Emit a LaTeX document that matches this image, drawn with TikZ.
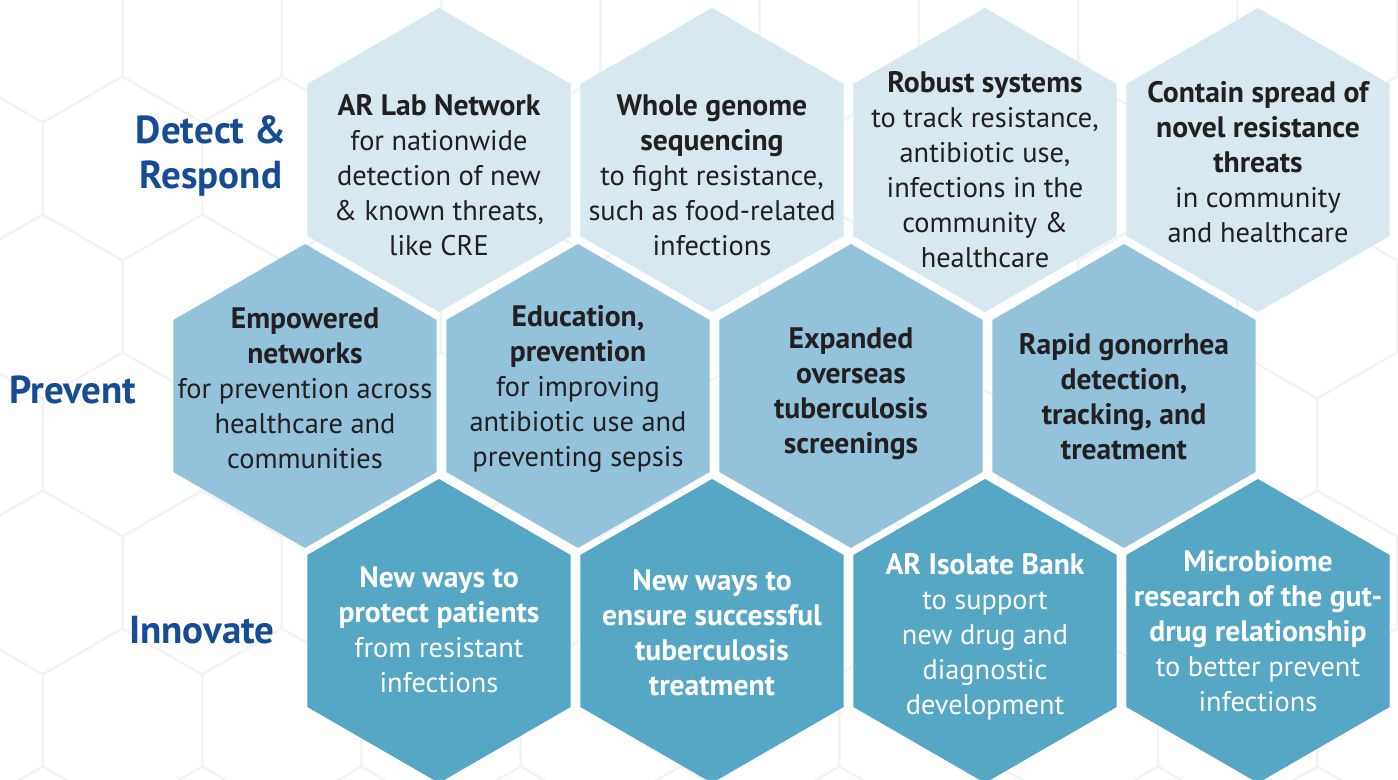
\documentclass[tikz,border=0pt]{standalone}
\usepackage{fontspec}
\setmainfont{PT Sans}
\usetikzlibrary{shapes.geometric}

\definecolor{detectfill}{RGB}{215,232,241}
\definecolor{preventfill}{RGB}{147,195,218}
\definecolor{innovatefill}{RGB}{86,166,198}
\definecolor{rowblue}{RGB}{22,76,148}
\definecolor{celldark}{RGB}{35,31,32}
\definecolor{bggrid}{RGB}{243,243,243}

\newcommand{\cellfont}{\fontsize{14.2}{17.5}\selectfont}
\newcommand{\headfont}{\fontsize{14.8}{17.5}\selectfont\bfseries}
\newcommand{\hd}[1]{{\headfont #1}}
\newcommand{\rowfont}{\fontsize{19.5}{22.5}\selectfont\bfseries}

\begin{document}
\begin{tikzpicture}[x=0.5pt,y=-0.5pt,
  hexcell/.style={regular polygon,regular polygon sides=6,shape border rotate=30,
    minimum size=152pt,inner sep=0pt,draw=none},
  cell/.style={align=center,font=\cellfont,text=celldark,inner sep=0pt},
  rowlabel/.style={align=center,font=\rowfont,text=rowblue,inner sep=0pt},
  bgline/.style={draw=bggrid,line width=1.1pt,line join=round}]

\useasboundingbox[fill=white] (0,0) rectangle (1398,780);

% faint honeycomb behind everything
\begin{scope}
\clip (0,0) rectangle (1398,780);
\foreach \k in {-1,...,5}{
  \foreach \i in {-1,...,9}{
    \pgfmathsetmacro{\gx}{122.5+159.3*\i-79.65*mod(\k+2,2)}
    \pgfmathsetmacro{\gy}{168.5+138*\k}
    \draw[bgline] (\gx,\gy) +(90:92) -- +(150:92) -- +(210:92) -- +(270:92)
      -- +(330:92) -- +(30:92) -- cycle;
  }
}
\end{scope}

% row labels
\node[rowlabel] (detect) at (211,156) {Detect \&\\Respond};
\node[rowlabel] (prevent) at (73,390) {Prevent};
\node[rowlabel] (innovate) at (202,630) {Innovate};

% detect & respond row
\node[hexcell,fill=detectfill] (d1) at (439,160) {};
\node[hexcell,fill=detectfill] (d2) at (712,160) {};
\node[hexcell,fill=detectfill] (d3) at (985,160) {};
\node[hexcell,fill=detectfill] (d4) at (1258,160) {};

\node[cell] (d1text) at (439,175) {\hd{AR Lab Network}\\for nationwide\\detection of new\\\& known threats,\\like CRE};
\node[cell] (d2text) at (712,175) {\hd{Whole genome}\\\hd{sequencing}\\to fight resistance,\\such as food-related\\infections};
\node[cell] (d3text) at (985,170) {\hd{Robust systems}\\to track resistance,\\antibiotic use,\\infections in the\\community \&\\healthcare};
\node[cell] (d4text) at (1258,162) {\hd{Contain spread of}\\\hd{novel resistance}\\\hd{threats}\\in community\\and healthcare};

% prevent row
\node[hexcell,fill=preventfill] (p1) at (305,396) {};
\node[hexcell,fill=preventfill] (p2) at (578,396) {};
\node[hexcell,fill=preventfill] (p3) at (851,396) {};
\node[hexcell,fill=preventfill] (p4) at (1124,396) {};

\node[cell] (p1text) at (305,388) {\hd{Empowered}\\\hd{networks}\\for prevention across\\healthcare and\\communities};
\node[cell] (p2text) at (578,389) {\hd{Education,}\\\hd{prevention}\\for improving\\antibiotic use and\\preventing sepsis};
\node[cell,font=\headfont] (p3text) at (851,394) {Expanded\\overseas\\tuberculosis\\screenings};
\node[cell,font=\headfont] (p4text) at (1124,397) {Rapid gonorrhea\\detection,\\tracking, and\\treatment};

% innovate row
\node[hexcell,fill=innovatefill] (i1) at (439,631) {};
\node[hexcell,fill=innovatefill] (i2) at (712,631) {};
\node[hexcell,fill=innovatefill] (i3) at (985,631) {};
\node[hexcell,fill=innovatefill] (i4) at (1258,631) {};

\node[cell,text=white] (i1text) at (439,630) {\hd{New ways to}\\\hd{protect patients}\\from resistant\\infections};
\node[cell,text=white,font=\headfont] (i2text) at (712,633) {New ways to\\ensure successful\\tuberculosis\\treatment};
\node[cell,text=white] (i3text) at (985,637) {\hd{AR Isolate Bank}\\to support\\new drug and\\diagnostic\\development};
\node[cell,text=white] (i4text) at (1258,631) {\hd{Microbiome}\\\hd{research of the gut-}\\\hd{drug relationship}\\to better prevent\\infections};

\end{tikzpicture}
\end{document}
